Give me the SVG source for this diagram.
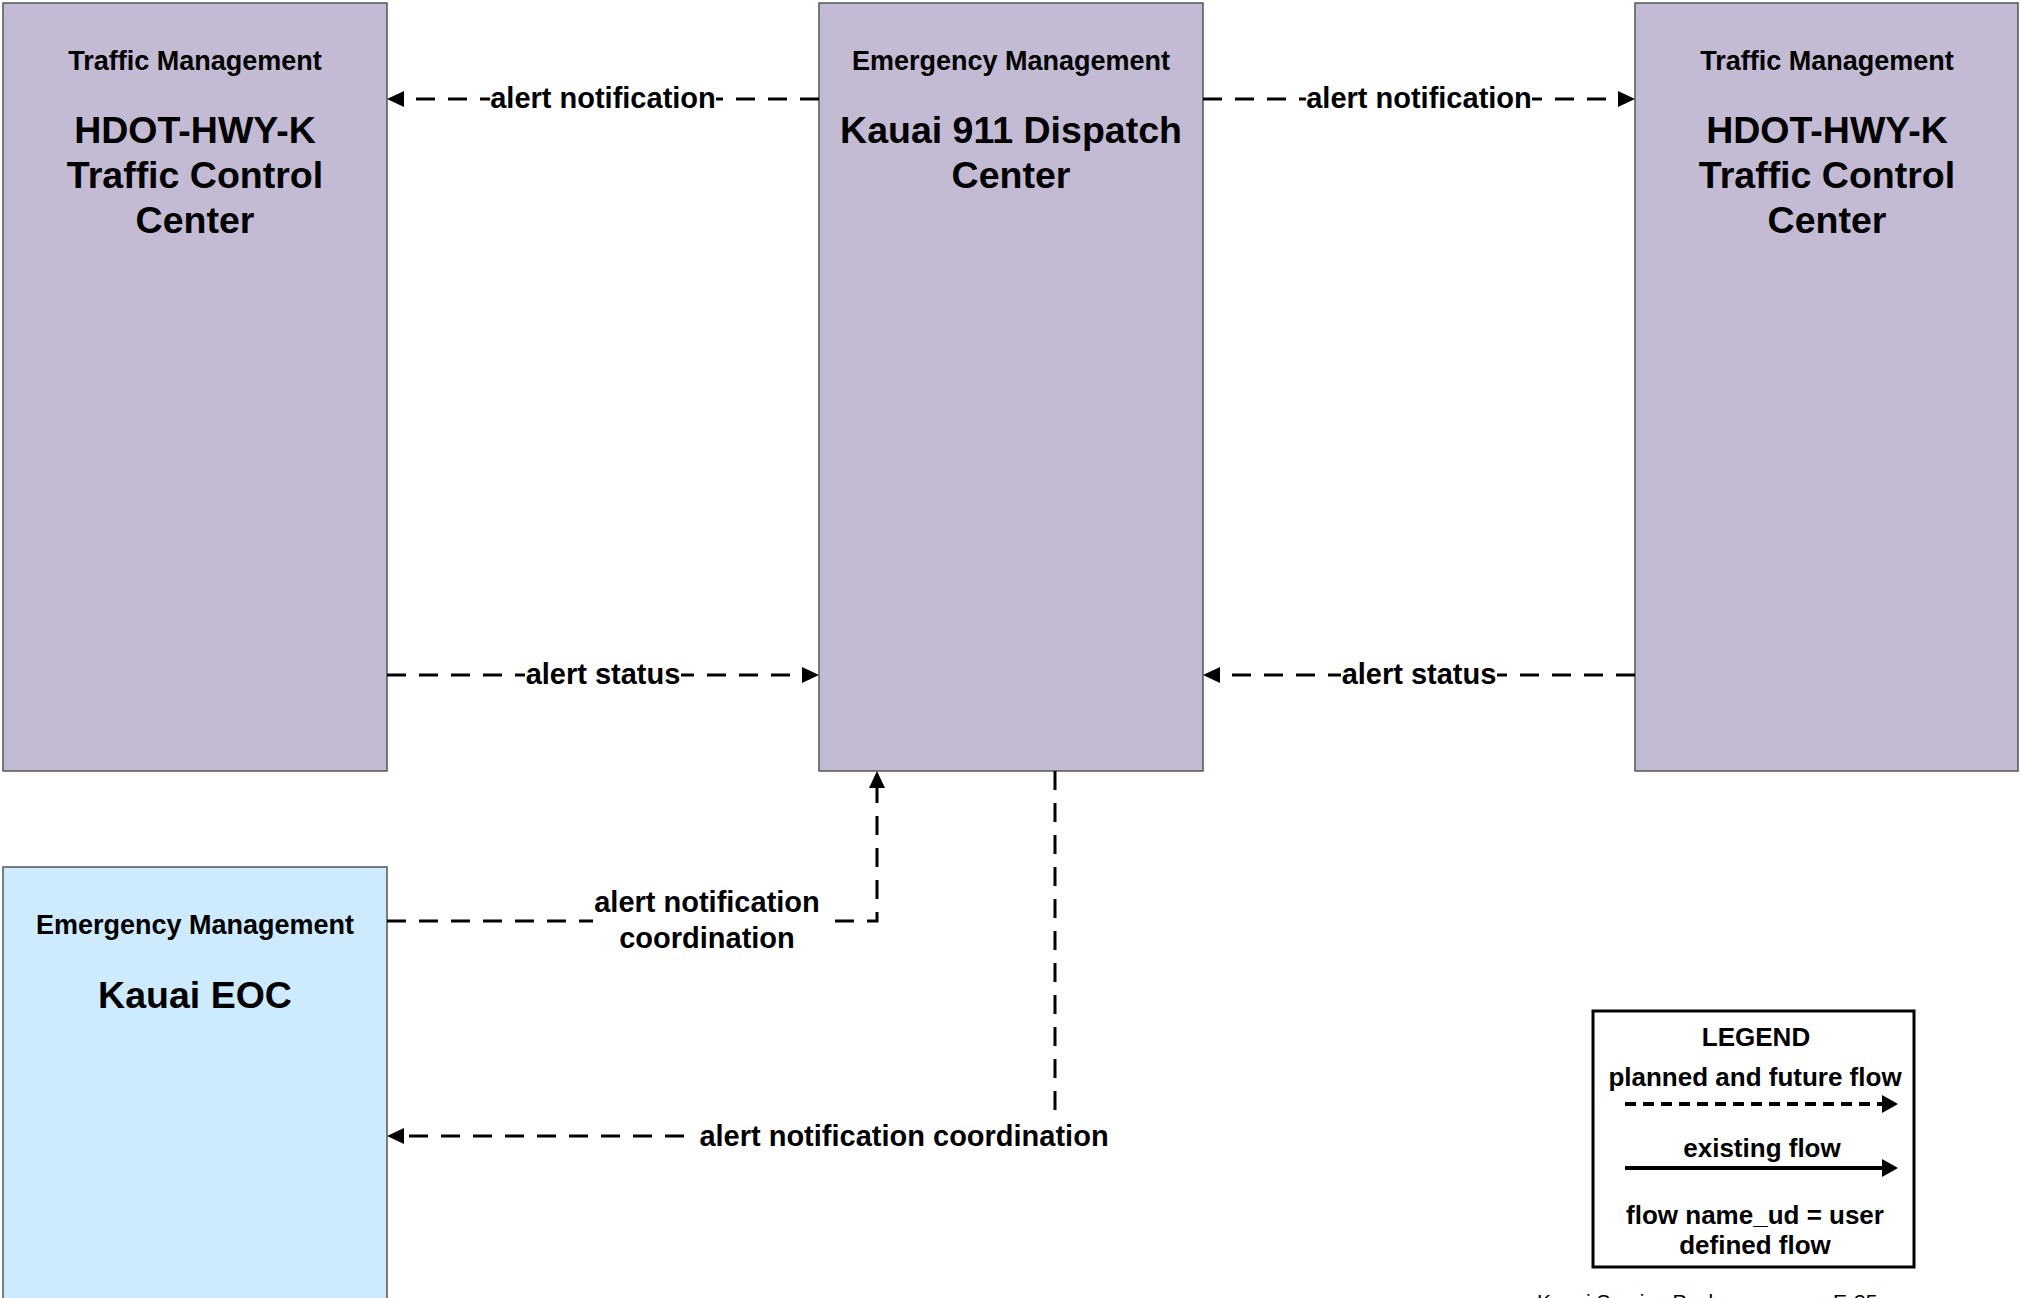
<svg xmlns="http://www.w3.org/2000/svg" width="2021" height="1298" viewBox="0 0 2021 1298">
<style>
.tm{fill:#c3bbd3;stroke:#555;stroke-width:1.5}
.em{fill:#c3bbd3;stroke:#555;stroke-width:1.5}
.eoc{fill:#cdebfd;stroke:#555;stroke-width:1.5}
text{font-family:"Liberation Sans",Arial,sans-serif;font-weight:bold;fill:#000;text-anchor:middle}
.cat{font-size:27px}
.name{font-size:37.5px}
.lbl{font-size:29px}
.leg{font-size:26px}
.foot{font-size:21px;font-weight:normal;text-anchor:start}
.flow{fill:none;stroke:#000;stroke-width:3;stroke-dasharray:19 13}
.bg{fill:#fff}
</style>
<defs>
<marker id="ah" markerUnits="userSpaceOnUse" markerWidth="17" markerHeight="16" refX="0" refY="8" orient="auto" overflow="visible">
<path d="M0,0 L17,8 L0,16 z" fill="#000"/>
</marker>
</defs>
<rect width="2021" height="1298" fill="#fff"/>
<g id="node-tm-left">
<rect class="tm" x="3" y="3" width="384" height="768"/>
<text class="cat" x="195" y="70">Traffic Management</text>
<text class="name" x="195" y="143">HDOT-HWY-K</text>
<text class="name" x="195" y="188">Traffic Control</text>
<text class="name" x="195" y="233">Center</text>
</g>
<g id="node-dispatch">
<rect class="em" x="819" y="3" width="384" height="768"/>
<text class="cat" x="1011" y="70">Emergency Management</text>
<text class="name" x="1011" y="143">Kauai 911 Dispatch</text>
<text class="name" x="1011" y="188">Center</text>
</g>
<g id="node-tm-right">
<rect class="tm" x="1635" y="3" width="383" height="768"/>
<text class="cat" x="1827" y="70">Traffic Management</text>
<text class="name" x="1827" y="143">HDOT-HWY-K</text>
<text class="name" x="1827" y="188">Traffic Control</text>
<text class="name" x="1827" y="233">Center</text>
</g>
<g id="node-eoc">
<rect class="eoc" x="3" y="867" width="384" height="440"/>
<text class="cat" x="195" y="934">Emergency Management</text>
<text class="name" x="195" y="1008">Kauai EOC</text>
</g>
<g id="connectors">
<line class="flow" x1="819" y1="99" x2="404" y2="99" marker-end="url(#ah)"/>
<rect class="bg" x="490" y="82" width="226" height="34"/>
<text class="lbl" x="603" y="108">alert notification</text>

<line class="flow" x1="1203" y1="99" x2="1618" y2="99" marker-end="url(#ah)"/>
<rect class="bg" x="1306" y="82" width="226" height="34"/>
<text class="lbl" x="1419" y="108">alert notification</text>

<line class="flow" x1="387" y1="675" x2="802" y2="675" marker-end="url(#ah)"/>
<rect class="bg" x="525" y="658" width="156" height="34"/>
<text class="lbl" x="603" y="684">alert status</text>

<line class="flow" x1="1635" y1="675" x2="1220" y2="675" marker-end="url(#ah)"/>
<rect class="bg" x="1341" y="658" width="156" height="34"/>
<text class="lbl" x="1419" y="684">alert status</text>

<polyline class="flow" points="387,921 877,921 877,788" marker-end="url(#ah)"/>
<rect class="bg" x="593" y="886" width="229" height="70"/>
<text class="lbl" x="707" y="912">alert notification</text>
<text class="lbl" x="707" y="948">coordination</text>

<polyline class="flow" points="1055,771 1055,1136 404,1136" marker-end="url(#ah)"/>
<rect class="bg" x="697" y="1111" width="415" height="42"/>
<text class="lbl" x="904" y="1146">alert notification coordination</text>
</g>
<g id="legend">
<rect x="1593" y="1011" width="321" height="256" fill="#fff" stroke="#000" stroke-width="3"/>
<text class="leg" x="1756" y="1046">LEGEND</text>
<text class="leg" x="1755" y="1086">planned and future flow</text>
<line x1="1625" y1="1104" x2="1882" y2="1104" stroke="#000" stroke-width="4" stroke-dasharray="11 7"/>
<path d="M1882,1095 L1898,1104 L1882,1113 z" fill="#000"/>
<text class="leg" x="1762" y="1157">existing flow</text>
<line x1="1625" y1="1168" x2="1882" y2="1168" stroke="#000" stroke-width="4"/>
<path d="M1882,1159 L1898,1168 L1882,1177 z" fill="#000"/>
<text class="leg" x="1755" y="1224">flow name_ud = user</text>
<text class="leg" x="1755" y="1254">defined flow</text>
</g>
<g id="footer">
<text class="foot" x="1537" y="1309">Kauai Service Packages</text>
<text class="foot" x="1833" y="1309">E-35</text>
</g>
</svg>
